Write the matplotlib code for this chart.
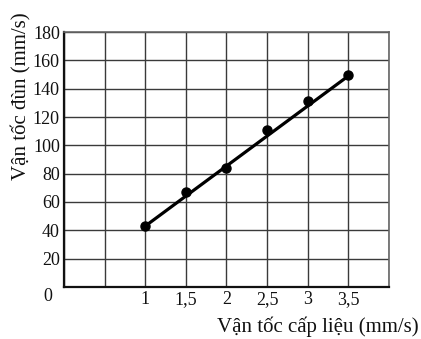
import matplotlib
matplotlib.use("Agg")
import matplotlib.pyplot as plt
import numpy as np

# Data
feed_speed = [1, 1.5, 2, 2.5, 3, 3.5]
extrude_speed = [43, 67, 84, 111, 131, 150]
fit_x = [1, 3.5]
fit_y = [43, 149]
x_ticks = [1, 1.5, 2, 2.5, 3, 3.5]
x_tick_labels = ["1", "1,5", "2", "2,5", "3", "3,5"]
y_ticks = [20, 40, 60, 80, 100, 120, 140, 160, 180]
y_tick_labels = ["20", "40", "60", "80", "100", "120", "140", "160", "180"]
xlabel = "Vận tốc cấp liệu (mm/s)"
ylabel = "Vận tốc đùn (mm/s)"

plt.rcParams['font.family'] = ['Liberation Serif', 'DejaVu Serif']

fig = plt.figure(figsize=(4.21, 3.39), dpi=100)
ax = fig.add_axes([0.152, 0.1534, 0.772, 0.7522])

ax.set_xlim(0, 4)
ax.set_ylim(0, 180)

ax.set_xticks(x_ticks)
ax.set_xticklabels(x_tick_labels)
ax.set_yticks(y_ticks)
ax.set_yticklabels(y_tick_labels)

# grid every 0.5 / 20
ax.set_xticks(np.arange(0, 4.01, 0.5), minor=True)
ax.set_yticks(np.arange(0, 180.1, 20), minor=True)
ax.grid(which='both', color='#3a3a3a', linewidth=1.0)
ax.set_axisbelow(True)

ax.tick_params(which='both', length=0, labelsize=13, colors='#111111')
ax.tick_params(axis='x', pad=3)
ax.tick_params(axis='y', pad=3)

for side in ['top', 'right']:
    ax.spines[side].set_color('#666666')
    ax.spines[side].set_linewidth(1.2)
for side in ['bottom', 'left']:
    ax.spines[side].set_color('#111111')
    ax.spines[side].set_linewidth(1.6)

ax.plot(fit_x, fit_y, color='black', linewidth=2.3, solid_capstyle='round', zorder=3)
ax.plot(feed_speed, extrude_speed, 'o', color='black', markersize=6.5, zorder=4)

ax.annotate("0", xy=(0, 0), xytext=(-12, -7), textcoords='offset points',
            ha='center', va='center', fontsize=13, color='#111111')

ax.set_xlabel(xlabel, fontsize=15, color='#111111', va='center')
ax.xaxis.set_label_coords(0.78, -0.155)
ax.set_ylabel(ylabel, fontsize=15, color='#111111', va='center')
ax.yaxis.set_label_coords(-0.132, 0.75)

fig.savefig("out.png", dpi=100)
